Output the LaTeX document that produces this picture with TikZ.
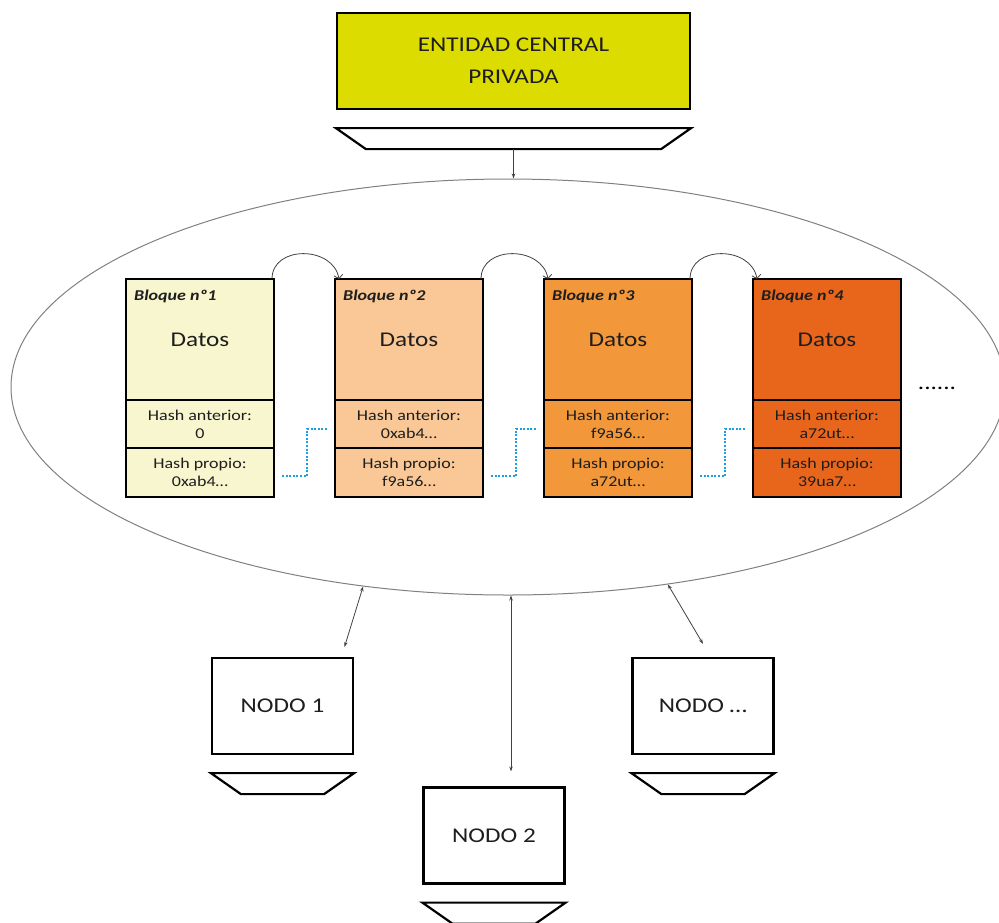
\documentclass[tikz,border=0pt]{standalone}
\usepackage{fontspec}
\setmainfont{Carlito}[FakeStretch=1.2]
\usepackage{tikz}
\usetikzlibrary{arrows.meta,positioning,calc,shapes.geometric}
\definecolor{EntYellow}{HTML}{DCDC00}
\definecolor{BlkOne}{HTML}{F8F6CE}
\definecolor{BlkTwo}{HTML}{FAC896}
\definecolor{BlkThree}{HTML}{F2973A}
\definecolor{BlkFour}{HTML}{E8661C}
\definecolor{LinkGray}{HTML}{404040}
\definecolor{RingGray}{HTML}{808080}
\definecolor{HashBlue}{HTML}{1BA1E2}
\definecolor{TextGray}{HTML}{1E1E1E}

\begin{document}
\begin{tikzpicture}[x=1pt,y=1pt,>={Stealth[length=5pt,width=3.5pt]},
  box/.style={draw,line width=2.2pt,minimum width=141pt,minimum height=96pt,
    text=TextGray,font=\fontsize{21}{32}\selectfont,align=center},
  base/.style={draw,line width=2.2pt,fill=white},
  cell/.style={draw,line width=2.4pt,minimum width=148pt,outer sep=0pt,
    text=TextGray,align=center,font=\fontsize{15}{18}\selectfont},
  tag/.style={inner sep=0pt,text=TextGray,font=\fontsize{15}{18}\selectfont\bfseries\itshape},
  link/.style={LinkGray,line width=.8pt},
  hop/.style={-{Straight Barb[length=3.5pt,width=9pt]},LinkGray,line width=.8pt},
  chain/.style={HashBlue,line width=1.6pt,dash pattern=on 2pt off 1.6pt}]
  \useasboundingbox (0,0) rectangle (999,-922);
  \node[box,fill=EntYellow,minimum width=353pt] (ec) at (513.5,-61) {ENTIDAD CENTRAL\\PRIVADA};
  \node[ellipse,draw=RingGray,line width=1pt,minimum width=994pt,minimum height=416pt,
    inner sep=0pt] (red) at (508,-387) {};
  \foreach \i/\c/\ant/\prop in {1/BlkOne/0/0xab4\ldots,2/BlkTwo/0xab4\ldots/f9a56\ldots,
      3/BlkThree/f9a56\ldots/a72ut\ldots,4/BlkFour/a72ut\ldots/39ua7\ldots}{
    \node[cell,fill=\c,minimum height=121pt,font=\fontsize{21}{24}\selectfont]
      (d\i) at ({200+209*(\i-1)},-339.5) {Datos};
    \node[cell,fill=\c,minimum height=48pt,below=0pt of d\i] (a\i) {Hash anterior:\\\ant};
    \node[cell,fill=\c,minimum height=49pt,below=0pt of a\i] (p\i) {Hash propio:\\\prop};
    \node[tag,anchor=base west] (t\i) at ([shift={(8,-21)}]d\i.north west) {Bloque nº\i};
  }
  \foreach \i/\j in {1/2,2/3,3/4}{
    \draw[hop] ([xshift=-2pt]d\i.north east) to[out=90,in=100,looseness=1.3] ([xshift=4pt]d\j.north west);
    \draw[chain] ([shift={(8,-3.5)}]p\i.east) -| ([shift={(-28,-5)}]a\j.west) -- ([shift={(-7,-5)}]a\j.west);
  }
  \node[text=black,font=\fontsize{21}{24}\selectfont] (more) at (937,-388) {......};
  \node[box] (n1) at (282.5,-706) {NODO 1};
  \node[box] (n2) at (494,-835.5) {NODO 2};
  \node[box] (n3) at (703,-706) {NODO \ldots};
  \foreach \b in {ec,n1,n2,n3}
    \draw[base] ([yshift=-18pt]\b.south west) -- ([yshift=-18pt]\b.south east)
      -- ++(-30,-21) -- ([shift={(30,-39)}]\b.south west) -- cycle;
  \coordinate (ecb) at ([yshift=-39pt]ec.south);
  \coordinate (n2top) at ([shift={(17,15)}]n2.north);
  \draw[link,->] (ecb) -- (ecb |- red.north);
  \draw[link,<->] (red.-126) -- ([shift={(62,10)}]n1.north);
  \draw[link,<->] (red.south -| n2top) -- (n2top);
  \draw[link,<->] (red.-51) -- ([yshift=13pt]n3.north);
\end{tikzpicture}
\end{document}
